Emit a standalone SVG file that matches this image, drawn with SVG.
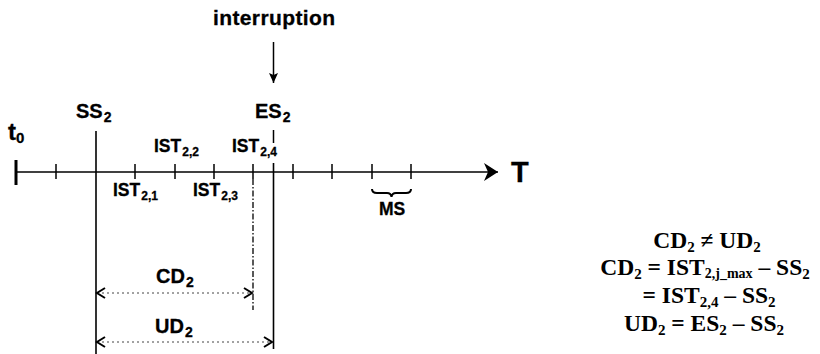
<svg xmlns="http://www.w3.org/2000/svg" width="820" height="354" viewBox="0 0 820 354">
<defs>
<style>
.ln{stroke:#000;stroke-width:1.6;fill:none}
.tk{stroke:#000;stroke-width:1.5}
.dot{stroke:#444;stroke-width:1;stroke-dasharray:2 3;fill:none}
.dd{stroke:#000;stroke-width:1.3;stroke-dasharray:6 2 1.5 2;fill:none}
.sans{font-family:"Liberation Sans",Arial,sans-serif;font-weight:bold;fill:#000;stroke:#000;stroke-width:0.3}
.serif{font-family:"Liberation Serif","Times New Roman",serif;font-weight:bold;fill:#000;font-size:23.5px}
</style>
<marker id="chev" viewBox="-10 -6 12 12" markerWidth="12" markerHeight="12" markerUnits="userSpaceOnUse" refX="0" refY="0" orient="auto-start-reverse">
<path d="M-8,-5 L0,0 L-8,5" fill="none" stroke="#000" stroke-width="2"/>
</marker>
<marker id="ah" viewBox="-16 -10 18 20" markerWidth="18" markerHeight="20" markerUnits="userSpaceOnUse" refX="0" refY="0" orient="auto">
<path d="M-14,-9 L0,0 L-14,9 L-10,0 Z" fill="#000"/>
</marker>
<marker id="ah2" viewBox="-10 -6 12 12" markerWidth="12" markerHeight="12" markerUnits="userSpaceOnUse" refX="0" refY="0" orient="auto">
<path d="M-10,-4.5 L0,0 L-10,4.5 L-8,0 Z" fill="#000"/>
</marker>
</defs>
<rect width="820" height="354" fill="#fff"/>

<g id="connectors">
<line class="ln" x1="16" y1="172" x2="498" y2="172" marker-end="url(#ah)"/>
<line x1="16" y1="160" x2="16" y2="185" stroke="#000" stroke-width="3"/>
<g class="tk">
<line x1="56" y1="164" x2="56" y2="179"/>
<line x1="135" y1="164" x2="135" y2="179"/>
<line x1="175" y1="164" x2="175" y2="179"/>
<line x1="214" y1="164" x2="214" y2="179"/>
<line x1="253" y1="164" x2="253" y2="179"/>
<line x1="293" y1="164" x2="293" y2="179"/>
<line x1="332" y1="164" x2="332" y2="179"/>
<line x1="372" y1="164" x2="372" y2="179"/>
<line x1="411" y1="164" x2="411" y2="179"/>
</g>
<line class="ln" x1="96" y1="131" x2="96" y2="354"/>
<line class="tk" x1="273.5" y1="130" x2="273.5" y2="143"/>
<line class="ln" x1="273.5" y1="163" x2="273.5" y2="349"/>
<line class="dd" x1="253" y1="179" x2="253" y2="310"/>
<line class="tk" x1="273.5" y1="42" x2="273.5" y2="83" stroke-width="1.4" marker-end="url(#ah2)"/>
<path d="M372,189 Q372,193 377,193 L387,193 Q391,193 391.5,197 Q392,193 396,193 L406,193 Q411,193 411,189" fill="none" stroke="#000" stroke-width="2"/>
<line class="dot" x1="97" y1="293" x2="252" y2="293" marker-start="url(#chev)" marker-end="url(#chev)"/>
<line class="dot" x1="97" y1="342" x2="272" y2="342" marker-start="url(#chev)" marker-end="url(#chev)"/>
</g>

<g id="labels" class="sans">
<text x="213" y="25" font-size="21" textLength="122" lengthAdjust="spacing">interruption</text>
<text x="8" y="140" font-size="24">t<tspan font-size="15" dy="3">0</tspan></text>
<text x="76" y="118" font-size="20">SS<tspan font-size="14" dx="1" dy="4">2</tspan></text>
<text x="255" y="118" font-size="20">ES<tspan font-size="14" dx="1" dy="4">2</tspan></text>
<text x="154" y="152" font-size="17.5">IST<tspan font-size="12" dx="1" dy="4">2,2</tspan></text>
<text x="232" y="152" font-size="17.5">IST<tspan font-size="12" dx="1" dy="4">2,4</tspan></text>
<text x="113" y="196" font-size="17.5">IST<tspan font-size="12" dx="1" dy="4">2,1</tspan></text>
<text x="193" y="196" font-size="17.5">IST<tspan font-size="12" dx="1" dy="4">2,3</tspan></text>
<text x="511" y="182" font-size="29">T</text>
<text x="392" y="215" font-size="17.5" text-anchor="middle">MS</text>
<text x="156" y="283" font-size="20">CD<tspan font-size="14" dx="1" dy="4">2</tspan></text>
<text x="155" y="333" font-size="20">UD<tspan font-size="14" dx="1" dy="4">2</tspan></text>
</g>

<g id="formulas" class="serif" text-anchor="middle">
<text x="707" y="248">CD<tspan font-size="15" dy="4">2</tspan><tspan dy="-4"> ≠ UD</tspan><tspan font-size="15" dy="4">2</tspan></text>
<text x="705" y="275">CD<tspan font-size="15" dy="4">2</tspan><tspan dy="-4"> = IST</tspan><tspan font-size="14" dy="3">2,j_max</tspan><tspan dy="-3"> – SS</tspan><tspan font-size="15" dy="4">2</tspan></text>
<text x="709" y="303">= IST<tspan font-size="15" dy="4">2,4</tspan><tspan dy="-4"> – SS</tspan><tspan font-size="15" dy="4">2</tspan></text>
<text x="704" y="331">UD<tspan font-size="15" dy="4">2</tspan><tspan dy="-4"> = ES</tspan><tspan font-size="15" dy="4">2</tspan><tspan dy="-4"> – SS</tspan><tspan font-size="15" dy="4">2</tspan></text>
</g>
</svg>
